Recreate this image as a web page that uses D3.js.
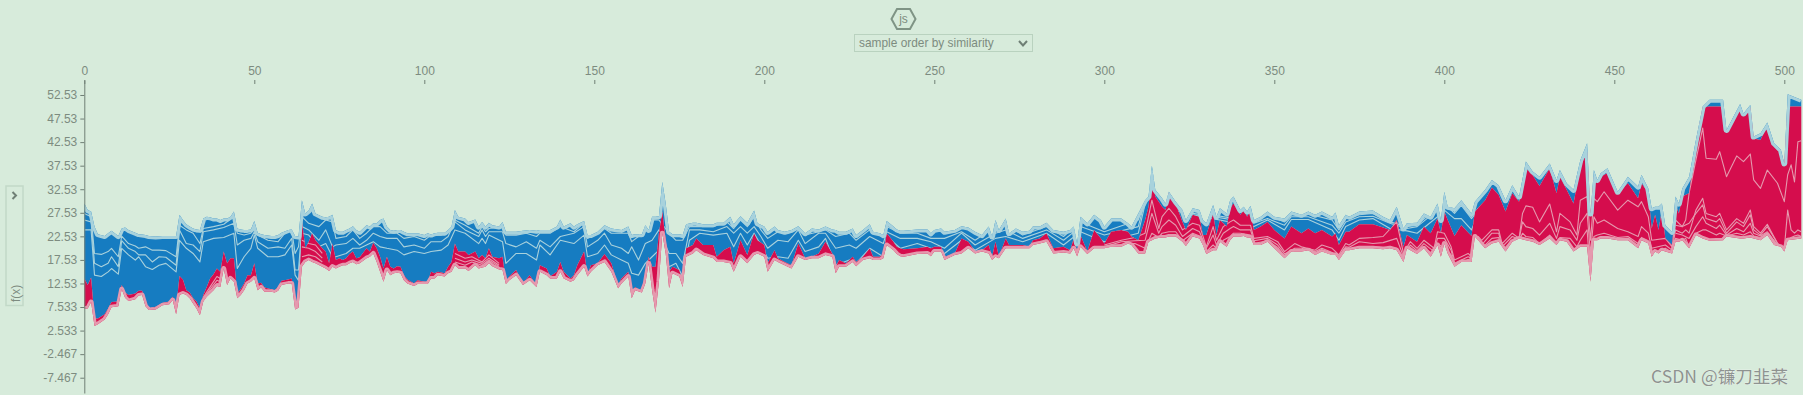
<!DOCTYPE html>
<html>
<head>
<meta charset="utf-8">
<script src="https://cdn.jsdelivr.net/npm/d3@7"></script>
<style>
  html, body { margin: 0; padding: 0; background: #d7ebdb; overflow: hidden; }
  svg { display: block; }
  text { font-family: "Liberation Sans", Arial, sans-serif; }
  .axis text { fill: #7d8b80; font-size: 12px; }
  .axis line, .axis path { stroke: #6f7f75; }
</style>
</head>
<body>
<div id="chart"></div>
<script>
// tick labels as shown on the axes
const xTicks = [0, 50, 100, 150, 200, 250, 300, 350, 400, 450, 500];
const yTicks = [52.53, 47.53, 42.53, 37.53, 32.53, 27.53, 22.53, 17.53, 12.53, 7.533, 2.533, -2.467, -7.467];

// outline of the stack (f(x) units)
const sampleOrder = [
  0,1,2,3,4,6,7,8,10,11,
  12,13,15,16,17,18,19,21,23,25,
  26,27,28,29,30,31,32,33,34,35,
  36,37,38,39,40,41,42,43,44,45,
  46,47,48,49,50,51,52,53,55,56,
  57,58,60,61,62,63,64,65,66,67,
  68,70,71,72,73,74,75,76,77,78,
  79,80,81,83,84,85,86,87,88,89,
  90,91,92,93,94,95,97,98,100,101,
  102,103,104,106,107,108,109,110,112,113,
  115,116,117,118,119,120,122,123,124,125,
  127,129,131,133,134,136,137,139,140,141,
  143,144,145,147,148,149,151,153,155,157,
  158,160,161,162,164,165,166,167,168,169,
  170,171,172,173,175,176,177,179,180,182,
  185,186,188,190,191,193,195,197,198,200,
  201,203,204,206,208,210,212,214,216,218,
  220,221,222,224,226,227,229,231,232,234,
  235,236,238,239,240,241,245,248,249,250,
  252,253,256,258,260,262,264,266,267,268,
  269,271,272,274,276,278,279,281,283,285,
  288,290,291,292,293,295,297,299,300,302,
  305,307,308,310,312,313,314,315,317,318,
  319,321,323,324,326,328,329,330,332,333,
  334,336,337,338,340,341,342,343,344,346,
  348,350,353,355,358,360,362,364,367,368,
  369,371,372,375,379,382,384,386,388,389,
  392,394,396,398,399,400,401,403,405,408,
  409,412,414,416,418,420,422,424,426,428,
  431,433,434,436,438,440,442,443,444,445,
  446,448,451,454,457,458,460,461,462,463,
  464,465,467,468,469,470,472,474,476,478,
  482,483,487,488,490,491,493,495,497,499,
  500,501,505
];
const upperEdge = [
  29.5,28.1,27.8,24.6,23.0,22.6,23.2,23.7,22.6,24.2,
  24.4,23.9,23.3,23.0,22.9,22.8,22.6,22.5,22.6,22.6,
  22.6,22.6,27.1,26.0,25.1,24.6,24.2,24.0,23.9,26.3,
  26.7,26.6,26.3,26.3,26.0,26.3,26.3,26.7,27.8,24.2,
  24.0,23.9,23.9,24.0,25.8,23.3,23.0,22.8,22.6,22.6,
  22.8,23.3,23.9,24.0,22.6,22.5,30.2,27.4,28.0,29.5,
  27.4,26.7,26.6,26.7,27.1,23.9,23.5,23.5,23.9,24.2,
  24.7,23.9,23.5,24.9,24.6,25.3,25.3,26.0,26.3,24.6,
  23.9,23.7,23.9,23.9,23.5,23.2,23.2,23.2,22.8,23.2,
  22.9,23.2,23.3,23.3,23.9,24.6,28.1,26.7,26.3,25.6,
  26.1,24.6,25.6,24.6,25.4,24.9,24.6,25.6,23.5,23.5,
  23.5,23.7,23.9,23.7,23.9,23.9,23.9,24.6,26.1,24.6,
  25.3,24.6,25.1,25.8,22.8,22.8,23.5,24.9,24.2,24.0,
  23.9,24.6,22.8,23.0,23.0,24.9,23.9,26.7,26.7,26.8,
  34.1,29.5,23.5,23.0,23.0,22.8,25.1,25.4,25.4,25.1,
  25.1,25.4,25.4,26.7,25.1,26.8,25.4,28.0,25.3,24.6,
  23.5,24.6,23.9,23.5,23.9,24.7,23.2,24.2,24.0,24.6,
  24.0,23.9,23.5,23.5,24.2,22.8,23.9,25.1,23.5,23.2,
  22.8,25.8,24.6,24.0,23.7,23.7,24.0,24.0,23.2,23.9,
  24.2,23.5,23.9,24.7,24.4,23.5,22.8,24.6,22.5,26.0,
  23.9,26.3,23.2,24.2,23.5,23.7,24.6,24.6,25.4,23.9,
  23.5,23.9,24.6,21.0,26.7,25.3,27.1,26.0,24.6,26.3,
  26.3,25.3,24.6,27.4,30.2,31.0,37.5,32.4,30.6,29.5,
  32.0,29.9,28.1,26.0,28.5,28.1,26.0,25.3,29.2,26.7,
  28.5,27.4,30.2,31.0,28.1,28.8,27.8,29.0,26.0,26.7,
  27.8,26.7,26.3,27.8,27.1,27.8,27.1,27.8,26.7,27.6,
  24.9,27.1,26.7,27.8,28.0,26.7,26.0,28.8,24.2,25.3,
  25.4,27.4,26.7,29.5,26.0,32.0,28.8,28.5,30.2,27.4,
  29.9,32.4,34.5,33.4,30.2,33.4,31.0,38.4,36.3,35.2,
  38.0,34.5,36.6,33.8,32.4,38.7,42.3,27.4,36.6,34.5,
  35.9,37.0,32.0,35.2,33.1,35.6,32.7,28.5,28.8,28.8,
  29.5,24.9,23.5,31.0,29.5,32.7,35.2,43.0,50.1,51.5,
  51.5,45.1,50.6,48.6,50.4,43.7,44.4,46.7,42.3,40.9,
  38.0,52.7,51.5
];
const splitLine = [
  13.6,12.2,13.8,5.1,5.1,6.0,7.2,8.6,8.7,12.2,
  10.6,10.1,10.4,11.0,11.0,8.7,7.2,7.6,8.4,8.7,
  9.7,7.2,14.1,13.4,11.1,10.6,9.4,8.7,7.2,10.1,
  11.8,13.6,14.5,15.7,15.0,19.3,16.8,17.9,17.9,10.4,
  11.3,12.5,14.3,14.3,16.8,12.5,12.7,11.7,11.3,11.1,
  11.8,13.1,13.4,13.6,7.9,8.4,26.0,20.0,21.4,23.2,
  21.7,20.0,19.3,16.8,21.0,17.5,17.9,17.5,17.9,18.8,
  19.3,17.9,18.1,20.0,19.3,21.2,20.0,18.2,15.7,18.2,
  16.1,15.7,16.2,16.1,14.3,13.4,12.5,13.2,12.9,12.9,
  15.0,14.7,15.0,14.7,16.1,17.1,21.0,19.3,19.3,18.6,
  19.3,17.9,18.6,17.9,20.0,18.2,17.9,18.2,12.9,14.0,
  15.4,12.5,14.3,12.0,16.4,15.7,14.0,15.0,17.1,15.0,
  13.6,14.3,16.4,19.3,14.3,16.4,16.8,18.8,16.8,12.2,
  13.6,15.0,9.7,11.8,10.8,13.6,18.2,16.1,16.1,23.2,
  27.8,21.7,15.0,16.1,15.4,12.5,20.0,20.7,22.1,20.7,
  20.7,18.2,19.6,20.3,16.8,21.7,18.6,23.2,21.7,20.7,
  16.8,19.6,17.9,17.1,16.4,21.0,17.9,18.2,18.9,21.4,
  18.9,16.1,17.5,16.8,18.2,17.1,18.2,20.0,18.2,18.2,
  18.9,23.2,21.4,20.3,20.0,19.8,20.0,20.3,20.0,20.3,
  20.3,18.2,18.9,22.1,21.4,19.3,19.6,20.7,18.2,21.4,
  18.2,22.1,20.7,20.7,20.7,20.3,21.7,22.1,23.2,20.0,
  20.3,19.6,22.1,19.3,22.8,19.3,23.9,22.1,21.0,23.5,
  23.9,23.5,22.5,21.7,26.0,28.8,35.5,31.0,28.8,28.1,
  31.8,29.5,25.6,23.9,27.1,26.7,22.8,22.8,27.4,22.8,
  26.0,24.6,28.5,29.5,27.1,28.1,26.7,28.1,23.9,24.6,
  25.6,23.9,22.1,24.6,23.2,24.2,23.2,23.9,22.5,23.2,
  20.7,23.5,23.5,25.1,25.1,24.4,23.9,26.0,20.3,22.8,
  21.4,24.6,23.2,26.3,23.2,27.8,26.0,22.6,24.9,22.6,
  27.8,30.2,32.9,31.3,27.8,31.7,29.9,37.0,35.5,33.2,
  37.0,31.7,35.2,32.4,29.5,37.3,40.5,27.4,35.2,33.8,
  35.2,36.0,31.8,33.8,30.6,33.8,31.8,24.2,27.1,23.9,
  28.1,22.1,20.7,29.2,27.4,31.0,31.7,42.3,49.9,50.1,
  50.1,44.7,49.9,48.3,49.9,43.3,43.0,46.2,41.6,40.1,
  37.7,50.1,50.1
];
const lowerEdge = [
  7.2,7.2,8.6,3.5,3.9,4.9,6.0,7.5,7.7,11.3,
  9.5,8.8,9.2,10.0,10.1,7.7,6.9,7.0,7.9,8.1,
  9.0,6.0,10.1,10.4,10.1,9.4,8.3,7.2,5.8,8.7,
  9.7,10.4,11.1,12.0,11.8,15.7,12.2,13.6,12.9,9.4,
  10.1,11.1,12.5,12.9,13.6,11.1,11.7,10.8,10.8,10.6,
  11.0,12.2,12.5,12.5,7.0,7.4,16.1,17.1,17.5,17.1,
  16.8,16.1,15.7,15.2,16.1,15.7,16.1,16.4,16.4,16.8,
  17.1,16.6,16.8,17.9,18.2,18.9,17.1,15.0,12.9,15.4,
  14.3,14.7,14.8,14.7,13.2,12.5,12.0,12.4,12.4,12.4,
  13.6,13.6,14.3,14.0,14.7,15.0,16.4,15.7,15.7,15.2,
  16.4,15.7,15.9,16.1,16.8,16.2,15.5,15.4,12.4,13.2,
  14.3,12.2,13.2,11.8,15.0,14.3,13.6,13.6,15.0,13.6,
  12.9,13.2,14.3,16.1,14.0,15.0,16.4,17.1,15.0,11.5,
  12.5,14.0,9.4,11.1,10.6,12.5,16.8,11.1,6.3,12.9,
  23.2,18.9,11.5,14.7,14.0,11.8,18.2,18.9,19.6,18.6,
  17.9,17.1,17.1,16.8,15.0,18.2,16.8,18.6,18.9,18.2,
  15.0,17.5,17.1,16.4,15.7,18.2,17.5,17.9,17.9,18.6,
  18.2,14.7,16.1,16.1,17.1,16.2,17.5,17.9,17.5,17.5,
  17.9,20.7,19.6,18.8,18.3,18.2,18.8,18.9,18.3,19.3,
  19.3,17.5,18.6,18.9,20.0,18.9,19.3,18.9,17.5,18.2,
  17.9,20.0,20.0,20.0,20.0,20.0,20.7,21.0,21.4,18.9,
  19.1,18.9,20.0,18.3,20.3,18.8,20.0,20.0,20.0,20.3,
  20.3,21.0,20.7,18.9,18.9,21.4,21.7,22.1,22.3,22.3,
  22.5,22.5,21.4,20.5,22.5,22.1,20.7,18.8,19.6,19.6,
  21.4,20.3,21.7,22.5,22.5,22.6,22.3,22.3,20.7,20.7,
  21.4,20.0,17.9,19.3,19.3,19.6,18.6,19.3,18.6,18.6,
  17.5,19.6,19.6,20.0,20.0,19.8,20.0,19.6,17.1,20.0,
  18.8,20.0,18.2,20.7,18.2,21.0,18.9,16.1,17.1,17.1,
  22.5,20.0,21.0,21.4,19.3,21.4,22.1,21.7,21.4,20.7,
  22.1,20.7,21.7,21.4,19.3,20.3,20.3,12.9,21.7,21.7,
  22.1,22.1,21.7,21.7,20.0,21.7,21.0,18.2,19.3,18.9,
  19.6,19.3,18.9,21.4,21.4,21.7,20.0,22.8,22.1,21.6,
  21.7,22.5,22.1,22.1,22.3,22.1,21.7,22.8,20.7,20.3,
  19.3,21.7,22.1
];

// pale feature boundaries inside the blue part
const blueSamples = [
  0,2,3,5,7,8,10,11,13,15,
  16,18,20,22,24,27,28,30,32,34,
  35,38,41,44,45,47,49,50,51,54,
  57,59,61,62,63,64,66,69,71,73,
  74,77,79,81,83,85,87,89,92,94,
  97,100,102,105,107,109,112,116,117,118,
  119,123,124,127,130,133,134,137,140,144,
  147,148,151,153,155,158,160,161,163,165,
  167,169,172,174,176,178,181,185,189,191,
  193,195,197,199,201,204,207,210,212,216,
  218,221,225,227,231,235,236,240,245,249,
  253,258,262,268,271,276,283,288,293,300,
  310,314,320,326,344,348,353,355,360,367,
  369,371,375,379,384,389,392,398,400,403,
  405,408,410
];
const blueLineA = [
  27.4,26.7,18.9,18.7,19.3,20.0,18.2,22.6,21.0,20.5,
  20.0,20.3,19.6,19.6,19.5,18.2,24.9,23.9,23.2,21.0,
  24.2,24.6,25.1,26.7,23.2,22.8,23.2,23.9,22.8,21.7,
  21.4,23.2,23.9,18.9,20.3,26.7,25.3,24.6,26.0,25.6,
  22.1,22.5,23.9,22.1,23.2,24.6,24.6,23.2,23.2,22.1,
  22.5,21.7,22.8,22.8,23.5,26.0,24.9,23.2,24.6,23.5,
  24.2,24.6,22.8,22.8,23.2,22.5,23.2,23.2,24.6,23.5,
  25.4,22.1,23.2,24.2,23.2,23.2,23.2,21.4,22.5,24.6,
  26.0,26.0,23.2,21.7,21.7,24.6,24.6,24.6,25.6,24.2,
  26.0,24.6,26.7,23.9,22.1,23.5,23.2,24.2,22.8,23.5,
  23.9,22.5,23.2,21.7,23.9,22.5,24.6,23.2,23.2,22.1,
  22.1,23.5,21.7,24.6,25.3,22.8,24.6,22.5,25.6,23.5,
  26.0,36.6,29.2,27.8,25.6,27.1,25.6,27.1,27.3,26.0,
  23.9,26.3,27.1,27.4,25.6,24.6,24.9,28.8,30.2,27.8,
  29.5,26.7,28.5
];
const blueLineB = [
  26.0,25.6,16.8,16.1,16.8,18.2,16.1,21.6,20.0,19.3,
  18.6,18.6,17.1,18.2,18.1,16.4,23.9,21.0,20.7,19.3,
  23.5,23.9,24.4,25.3,20.7,21.7,22.1,23.5,21.4,20.0,
  20.3,20.0,22.1,15.4,15.4,24.6,23.9,21.7,23.9,20.3,
  20.7,21.0,22.1,20.7,21.7,23.2,22.5,22.1,22.1,20.3,
  20.7,20.0,21.4,21.4,22.5,25.6,23.9,22.5,23.9,22.5,
  23.5,23.5,21.0,20.3,21.4,20.0,21.7,20.3,22.5,23.2,
  24.6,20.3,21.7,23.2,20.7,20.0,18.9,20.3,17.5,21.0,
  21.7,23.9,18.9,18.9,16.8,23.9,23.9,23.5,24.6,23.2,
  24.6,23.2,24.6,22.5,20.0,21.7,21.4,23.9,21.0,23.2,
  23.2,20.0,20.7,20.0,22.5,21.0,23.5,22.1,22.1,21.4,
  20.0,23.2,20.7,23.2,23.9,22.1,23.9,21.7,24.6,22.8,
  24.6,35.9,28.5,27.4,25.3,26.3,24.9,26.7,26.7,24.9,
  23.2,25.6,26.7,26.8,25.3,24.2,24.6,28.1,29.5,27.4,
  29.1,26.3,28.1
];
const blueLineC = [
  23.9,23.9,14.3,14.0,15.0,15.7,14.5,20.0,18.6,17.5,
  18.2,16.1,15.5,16.4,16.8,15.0,21.7,20.0,18.9,17.1,
  21.4,22.1,22.3,23.2,15.7,18.2,20.0,22.8,20.0,18.2,
  18.2,18.6,20.7,14.3,13.2,23.2,22.8,20.3,21.0,18.2,
  18.2,18.9,20.0,20.0,20.7,21.4,20.3,20.0,19.6,18.6,
  19.3,18.9,19.3,19.6,20.7,23.9,23.2,21.0,22.1,21.0,
  22.8,21.4,16.8,18.9,18.9,17.5,20.7,18.6,21.7,21.0,
  22.8,18.2,18.9,20.7,18.6,17.5,16.8,14.7,14.3,16.8,
  18.2,19.6,16.1,16.8,14.0,21.7,23.2,22.8,23.2,20.3,
  23.2,20.7,23.2,20.7,17.9,18.2,17.9,21.7,19.3,20.3,
  22.1,16.4,17.5,16.8,20.0,18.2,22.5,20.0,21.0,20.0,
  18.9,21.7,19.6,22.1,22.5,21.4,23.2,20.7,23.5,21.4,
  23.2,35.5,28.1,27.1,24.6,26.0,23.9,26.1,26.1,23.9,
  21.7,24.6,26.0,26.3,24.2,23.7,23.2,26.7,28.1,26.3,
  26.3,23.9,27.4
];

// pale feature boundaries inside the red part, null breaks the line
const redSamples = [
  35,37,39,40,41,64,66,68,70,71,
  109,112,114,117,119,122,123,300,305,309,
  312,314,316,317,319,321,323,326,328,330,
  332,333,335,337,338,340,343,344,348,351,
  353,356,358,362,364,367,369,371,372,375,
  379,382,386,388,390,392,394,397,398,400,
  402,403,407,408,410,411,414,416,417,420,
  422,423,424,426,428,431,433,434,437,439,
  440,442,443,444,445,447,451,454,457,458,
  460,461,465,467,468,470,471,472,474,476,
  477,480,481,483,486,488,490,491,493,495,
  498,500,501,502,503,504,505
];
const redLineA = [
  9.6,11.8,14.0,13.6,null,21.7,21.0,20.7,18.9,null,
  18.9,17.9,18.2,17.1,18.6,16.8,null,20.7,21.7,22.3,
  23.2,30.2,24.2,26.7,28.5,26.7,23.9,25.3,24.9,20.3,
  24.6,21.7,24.6,25.6,26.0,24.9,24.9,22.1,22.5,21.4,
  19.3,21.0,20.3,19.6,20.7,20.0,18.6,21.0,20.7,22.1,
  22.3,22.5,25.6,18.9,21.4,20.0,21.7,20.0,23.5,23.2,
  20.3,17.5,18.9,18.2,22.5,21.7,23.9,23.9,21.0,23.2,
  22.1,27.4,29.0,28.7,25.6,29.4,23.5,27.4,25.6,22.8,
  30.2,31.0,21.7,30.6,29.9,32.0,28.1,30.2,28.8,29.9,
  26.7,21.7,22.1,20.3,26.0,24.6,26.0,31.7,38.7,45.5,
  39.1,38.9,40.5,35.2,39.6,38.4,40.0,34.5,32.7,36.6,
  33.8,29.9,35.6,37.7,34.1,42.6,42.8
];
const redLineB = [
  9.2,11.3,13.2,12.9,null,20.3,20.0,19.3,17.9,null,
  17.9,17.1,17.5,16.8,17.9,16.4,null,20.3,21.4,21.6,
  21.7,27.4,23.2,24.6,26.0,24.9,22.5,24.2,23.5,20.0,
  22.8,20.7,23.2,24.2,24.6,23.9,23.9,21.6,22.1,20.7,
  18.8,20.0,20.0,19.3,20.0,19.1,18.2,20.3,20.2,21.4,
  21.0,21.2,22.1,18.2,20.7,19.5,21.0,19.3,22.1,22.1,
  19.6,16.8,18.2,17.9,21.7,20.7,23.2,23.2,20.3,22.5,
  21.9,25.6,24.6,24.2,22.8,25.3,22.1,24.6,23.9,21.7,
  25.3,27.4,18.9,26.7,25.3,26.0,24.2,23.5,22.5,24.6,
  23.2,20.0,20.7,19.6,23.9,23.2,23.9,23.2,28.1,30.6,
  27.4,26.7,27.4,23.9,26.3,25.3,28.1,24.6,23.2,25.1,
  21.0,20.0,28.1,23.9,23.2,23.9,23.5
];
const redLineC = [
  8.9,10.8,12.5,12.4,null,18.2,18.6,18.2,17.1,null,
  17.1,16.4,17.1,16.4,17.5,16.1,null,20.0,20.8,21.0,
  20.0,23.2,22.3,23.2,23.5,23.5,21.6,23.2,22.6,19.3,
  20.7,20.0,21.7,22.5,23.2,23.2,22.8,21.0,21.6,20.2,
  18.2,19.5,19.5,18.8,19.5,18.6,17.6,19.8,19.8,20.3,
  20.3,20.2,20.0,17.4,20.2,18.9,20.2,18.6,21.0,20.0,
  18.6,16.2,17.6,17.4,20.7,20.0,22.1,22.3,19.5,21.7,
  21.6,23.2,22.5,22.3,21.0,22.8,21.0,22.3,22.1,20.3,
  21.7,23.9,14.0,22.5,22.8,23.2,22.3,22.5,21.0,22.3,
  21.6,18.6,20.0,19.1,22.1,21.7,22.1,20.3,23.2,23.9,
  23.9,22.8,23.2,22.6,23.2,22.8,23.5,22.6,22.3,23.2,
  20.7,19.6,21.7,22.3,22.6,22.8,22.5
];
// extra lines of the dense cluster at the right end
const redTailSamples = [468,470,472,474,476,477,480,481,483,486,488,490,491,493,495,498];
const redLineD = [24.9,24.6,25.3,27.4,29.2,26.3,25.6,26.3,23.2,25.6,24.6,27.1,23.9,22.8,24.6,21.1];
const redLineE = [23.2,22.8,22.1,24.6,26.7,25.3,24.2,24.9,22.8,24.2,23.5,25.3,23.2,22.6,23.5,20.7];

const width = 1803, height = 395;
const red = '#d50e4d', blue = '#187bc1', paleBlue = '#a8d2dc', palePink = '#e599ae';
const greyText = '#7d8b80', paleBorder = '#b9d2bf';

const svg = d3.select('#chart').append('svg').attr('width', width).attr('height', height);

const x = d3.scaleLinear().domain([0, 505.5]).range([84.3, 1803]);
const y = d3.scaleLinear().domain([55.71, -10.71]).range([80, 393]);

const rows = sampleOrder.map((s, i) => ({s, upper: upperEdge[i], split: splitLine[i], lower: lowerEdge[i]}));

const blueArea = d3.area().x(d => x(d.s)).y0(d => y(d.split)).y1(d => y(d.upper));
const redArea = d3.area().x(d => x(d.s)).y0(d => y(d.lower)).y1(d => y(d.split));
const stackArea = d3.area().x(d => x(d.s)).y0(d => y(d.lower)).y1(d => y(d.upper));

const defs = svg.append('defs');
defs.append('clipPath').attr('id', 'clip-blue').append('path').attr('d', blueArea(rows));
defs.append('clipPath').attr('id', 'clip-red').append('path').attr('d', redArea(rows));
defs.append('clipPath').attr('id', 'clip-stack').append('path').attr('d', stackArea(rows));
// the reference is a slightly soft screenshot
defs.append('filter').attr('id', 'soft').attr('x', 0).attr('y', 0).attr('width', '100%').attr('height', '100%')
  .attr('filterUnits', 'userSpaceOnUse')
  .append('feGaussianBlur').attr('stdDeviation', 0.35);

const marks = svg.append('g').attr('filter', 'url(#soft)');
marks.append('path').attr('d', blueArea(rows)).attr('fill', blue);
marks.append('path').attr('d', redArea(rows)).attr('fill', red);

function innerLine(samples, values, color, clipId) {
  const line = d3.line().defined(d => d.v !== null).x(d => x(d.s)).y(d => y(d.v));
  marks.append('path')
    .attr('d', line(samples.map((s, i) => ({s, v: values[i]}))))
    .attr('fill', 'none').attr('stroke', color).attr('stroke-width', 1.1)
    .attr('stroke-linejoin', 'round')
    .attr('clip-path', `url(#${clipId})`);
}
[blueLineA, blueLineB, blueLineC].forEach(v => innerLine(blueSamples, v, paleBlue, 'clip-blue'));
[redLineA, redLineB, redLineC].forEach(v => innerLine(redSamples, v, palePink, 'clip-red'));
[redLineD, redLineE].forEach(v => innerLine(redTailSamples, v, palePink, 'clip-red'));

// pale bands along the outer edges, clipped so they stay inside the stack
marks.append('path')
  .attr('d', d3.line().x(d => x(d.s)).y(d => y(d.upper))(rows))
  .attr('fill', 'none').attr('stroke', paleBlue).attr('stroke-width', 6)
  .attr('stroke-linejoin', 'round').attr('clip-path', 'url(#clip-stack)');
marks.append('path')
  .attr('d', d3.line().x(d => x(d.s)).y(d => y(d.lower))(rows))
  .attr('fill', 'none').attr('stroke', palePink).attr('stroke-width', 5)
  .attr('stroke-linejoin', 'round').attr('clip-path', 'url(#clip-stack)');

// axes
svg.append('g').attr('class', 'axis').attr('transform', 'translate(0,84)')
  .call(d3.axisTop(x).tickValues(xTicks).tickSize(4).tickPadding(5).tickFormat(d => d))
  .call(g => g.select('.domain').remove());
svg.append('g').attr('class', 'axis').attr('transform', 'translate(84.3,0)')
  .call(d3.axisLeft(y).tickValues(yTicks).tickSize(4).tickSizeOuter(0).tickPadding(3)
    .tickFormat((d, i) => String(yTicks[i])));

// collapsed side panel
svg.append('rect').attr('x', 6).attr('y', 186).attr('width', 17).attr('height', 119.5)
  .attr('fill', 'none').attr('stroke', '#c2d9c8').attr('stroke-width', 1.5);
svg.append('path').attr('d', 'M12.5,192 L16,195.5 L12.5,199')
  .attr('fill', 'none').attr('stroke', '#6f7f75').attr('stroke-width', 2);
svg.append('text').attr('transform', 'translate(20,302) rotate(-90)')
  .attr('font-size', 12).attr('fill', greyText).text('f(x)');

// js icon and sort select on top
svg.append('path').attr('d', 'M891.5,19 L897,9 L910,9 L915.5,19 L910,29 L897,29 Z')
  .attr('fill', 'none').attr('stroke', '#7f9485').attr('stroke-width', 2);
svg.append('text').attr('x', 903.5).attr('y', 23).attr('text-anchor', 'middle')
  .attr('font-size', 12).attr('fill', greyText).text('js');
svg.append('rect').attr('x', 854.5).attr('y', 34.5).attr('width', 178).attr('height', 17)
  .attr('fill', 'none').attr('stroke', paleBorder);
svg.append('text').attr('x', 859).attr('y', 47).attr('font-size', 11.9)
  .attr('fill', greyText).text('sample order by similarity');
svg.append('path').attr('d', 'M1019,41 L1023,45.5 L1027,41')
  .attr('fill', 'none').attr('stroke', '#6f7f75').attr('stroke-width', 2);

// watermark
svg.append('text').attr('x', 1651).attr('y', 383)
  .style('font-family', '"Noto Sans CJK SC", sans-serif')
  .attr('font-size', 17.6).attr('fill', '#8e9390')
  .attr('stroke', '#f2f6f2').attr('stroke-width', 0.5).attr('paint-order', 'stroke')
  .text('CSDN @镰刀韭菜');
</script>
</body>
</html>
